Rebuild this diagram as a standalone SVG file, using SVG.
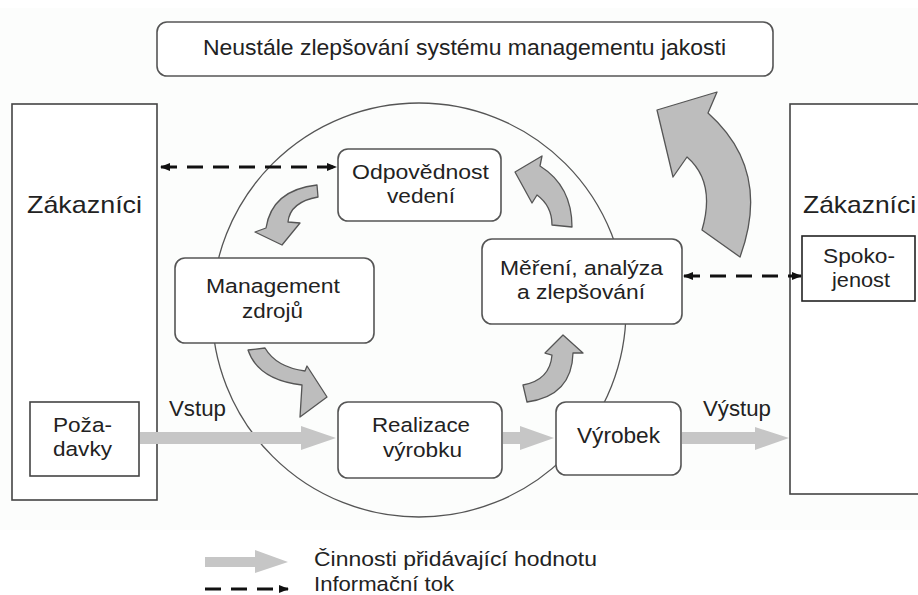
<svg xmlns="http://www.w3.org/2000/svg" width="918" height="595" viewBox="0 0 918 595">
<style>
.box{fill:#ffffff;stroke:#555555;stroke-width:1.6}
.sq{fill:#ffffff;stroke:#444444;stroke-width:1.6}
.t{font-family:"Liberation Sans",Arial,sans-serif;font-size:22px;fill:#222222}
.s{font-size:20.5px}
.big{font-size:24px}
.va{fill:#c6c6c6}
.cur{fill:#bdbdbd;stroke:#555555;stroke-width:1.3;stroke-linejoin:round}
.dash{stroke:#111111;stroke-width:3;stroke-dasharray:16 10;fill:none}
</style>
<defs>
<marker id="ah" markerWidth="10" markerHeight="8" refX="9" refY="4" orient="auto" markerUnits="userSpaceOnUse">
<path d="M0,0 L10,4 L0,8 Z" fill="#111111"/>
</marker>
<marker id="ahs" markerWidth="10" markerHeight="8" refX="1" refY="4" orient="auto" markerUnits="userSpaceOnUse">
<path d="M10,0 L0,4 L10,8 Z" fill="#111111"/>
</marker>
</defs>
<rect x="0" y="8" width="918" height="522" fill="#fcfdfc"/>

<g id="cycle-circle">
<circle cx="419" cy="310" r="207" fill="none" stroke="#555555" stroke-width="1.3"/>
</g>

<g id="top-improvement">
<rect class="box" x="157" y="22" width="616" height="54" rx="10"/>
<text class="t" x="203" y="55" textLength="523" lengthAdjust="spacingAndGlyphs">Neustále zlepšování systému managementu jakosti</text>
</g>

<g id="customers-left">
<rect class="sq" x="12" y="104" width="145" height="396"/>
<text class="t big" x="27" y="213" textLength="115" lengthAdjust="spacingAndGlyphs">Zákazníci</text>
</g>

<g id="customers-right">
<rect class="sq" x="790" y="104" width="140" height="390"/>
<text class="t big" x="803" y="213" textLength="113" lengthAdjust="spacingAndGlyphs">Zákazníci</text>
</g>

<g id="requirements">
<rect class="sq" x="30" y="402" width="109" height="74"/>
<text class="t s" x="53" y="432" textLength="59" lengthAdjust="spacingAndGlyphs">Poža-</text>
<text class="t s" x="53" y="456" textLength="59" lengthAdjust="spacingAndGlyphs">davky</text>
</g>

<g id="satisfaction">
<rect x="802" y="236" width="113" height="65" fill="#ffffff" stroke="#222222" stroke-width="1.6"/>
<text class="t s" x="823" y="263" textLength="72" lengthAdjust="spacingAndGlyphs">Spoko-</text>
<text class="t s" x="832" y="287" textLength="58" lengthAdjust="spacingAndGlyphs">jenost</text>
</g>

<g id="management-responsibility">
<rect class="box" x="338" y="149" width="163" height="72" rx="10"/>
<text class="t s" x="352" y="179" textLength="137" lengthAdjust="spacingAndGlyphs">Odpovědnost</text>
<text class="t s" x="387" y="203" textLength="68" lengthAdjust="spacingAndGlyphs">vedení</text>
</g>

<g id="resource-management">
<rect class="box" x="175" y="258" width="199" height="85" rx="10"/>
<text class="t s" x="206" y="293" textLength="134" lengthAdjust="spacingAndGlyphs">Management</text>
<text class="t s" x="242" y="318" textLength="61" lengthAdjust="spacingAndGlyphs">zdrojů</text>
</g>

<g id="measurement">
<rect class="box" x="482" y="239" width="200" height="85" rx="10"/>
<text class="t s" x="500" y="275" textLength="163" lengthAdjust="spacingAndGlyphs">Měření, analýza</text>
<text class="t s" x="517" y="299" textLength="128" lengthAdjust="spacingAndGlyphs">a zlepšování</text>
</g>

<g id="product-realization">
<rect class="box" x="338" y="402" width="164" height="76" rx="10"/>
<text class="t s" x="372" y="432" textLength="98" lengthAdjust="spacingAndGlyphs">Realizace</text>
<text class="t s" x="383" y="457" textLength="79" lengthAdjust="spacingAndGlyphs">výrobku</text>
</g>

<g id="product">
<rect class="box" x="556" y="402" width="125" height="73" rx="10"/>
<text class="t" x="577" y="443" textLength="83" lengthAdjust="spacingAndGlyphs">Výrobek</text>
</g>

<g id="connectors">
<polygon class="va" points="140,432 301,432 301,426 336,438 301,450 301,444 140,444"/>
<polygon class="va" points="503,432 520,432 520,426 554,438 520,450 520,444 503,444"/>
<polygon class="va" points="682,432 755,432 755,427 789,438 755,450 755,444 682,444"/>
<text class="t" x="169" y="416" textLength="57" lengthAdjust="spacingAndGlyphs">Vstup</text>
<text class="t" x="703" y="416" textLength="68" lengthAdjust="spacingAndGlyphs">Výstup</text>
<line class="dash" x1="161" y1="167" x2="336" y2="167" marker-start="url(#ahs)" marker-end="url(#ah)"/>
<line class="dash" x1="684" y1="276" x2="801" y2="276" marker-start="url(#ahs)" marker-end="url(#ah)"/>
<path class="cur" d="M317,185 Q272,190 266,228 L255,232 L282,245 L300,223 L288,222 Q290,202 318,197 Z"/>
<path class="cur" d="M265,348 Q276,367 305,371 L307,366 L327,397 L300,417 L302,385 Q258,380 248,350 Z"/>
<path class="cur" d="M552,225 L572,227 Q572,186 540,166 L542,156 L515,172 L532,203 L537,195 Q552,206 552,225 Z"/>
<path class="cur" d="M523,385 Q550,380 552,355 L545,353 L563,335 L583,353 L573,353 Q572,396 527,402 Z"/>
<path class="cur" d="M702,230 L740,257 Q772,170 708,113 L717,92 L657,110 L673,177 L687,157 Q716,182 702,230 Z"/>
</g>

<g id="legend">
<polygon class="va" points="205,557 255,557 255,550 288,562 255,573 255,567 205,567"/>
<text class="t s" x="314" y="566" textLength="283" lengthAdjust="spacingAndGlyphs">Činnosti přidávající hodnotu</text>
<line class="dash" x1="205" y1="589" x2="288" y2="589" marker-end="url(#ah)"/>
<text class="t s" x="314" y="591" textLength="140" lengthAdjust="spacingAndGlyphs">Informační tok</text>
</g>
</svg>
